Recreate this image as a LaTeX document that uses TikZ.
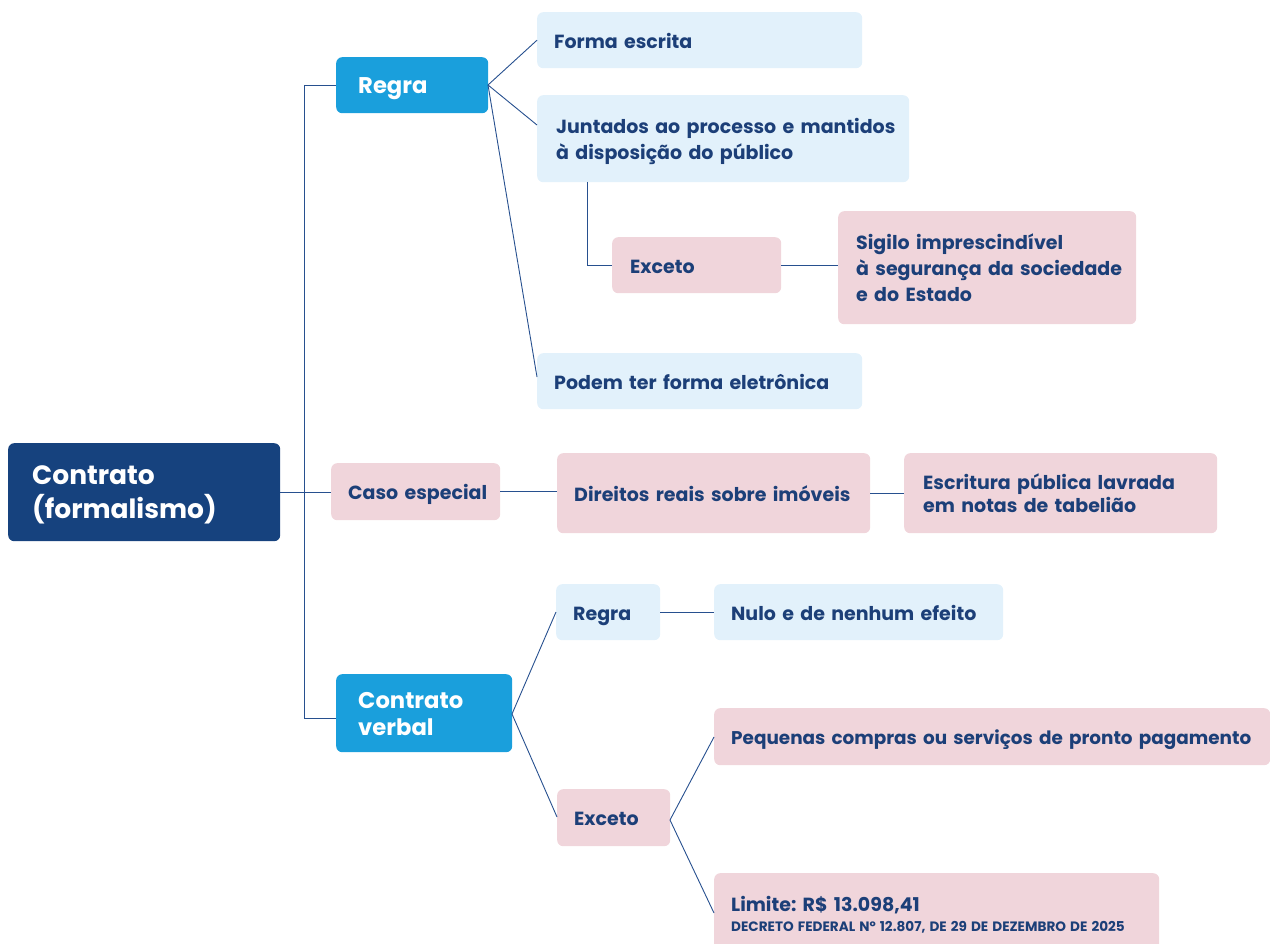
\documentclass[tikz,border=0pt]{standalone}
\usepackage{fontspec}
\setmainfont{Poppins}
\frenchspacing
\definecolor{rootc}{HTML}{16427E}
\definecolor{bluec}{HTML}{1A9FDC}
\definecolor{lblue}{HTML}{E2F1FB}
\definecolor{pinkc}{HTML}{F0D5DB}
\definecolor{txtc}{HTML}{1C3F78}
\definecolor{linec}{HTML}{27508F}
\newcommand\boxlines[1]{\raisebox{-3pt}[\height][\depth]{\begin{tabular}{@{}l@{}}#1\end{tabular}}}
\begin{document}
\begin{tikzpicture}[x=1pt,y=-1pt,
  base/.style={anchor=north west, rounded corners=6pt, align=left, inner ysep=0pt, font=\bfseries\fontsize{19}{26}\selectfont\frenchspacing, text=txtc},
  rootbox/.style={base, fill=rootc, text=white, font=\bfseries\fontsize{26.5}{31}\selectfont},
  bluebox/.style={base, fill=bluec, text=white, font=\bfseries\fontsize{22.7}{27}\selectfont},
  lbbox/.style={base, fill=lblue},
  pkbox/.style={base, fill=pinkc},
  conn/.style={draw=linec, line width=0.9pt}]
\useasboundingbox (0,0) rectangle (1270,944);

% nodes
\node[rootbox, inner xsep=24pt, text width=224pt, minimum height=98pt] (root) at (8,443) {\boxlines{Contrato\\(formalismo)}};
\node[bluebox, inner xsep=22pt, text width=108pt, minimum height=56pt] (regra) at (336,57) {\boxlines{Regra}};
\node[lbbox, inner xsep=17pt, text width=291pt, minimum height=56pt] (forma) at (537,12) {\boxlines{Forma escrita}};
\node[lbbox, inner xsep=19pt, text width=334pt, minimum height=87pt] (junt) at (537,95) {\boxlines{Juntados ao processo e mantidos\\à disposição do público}};
\node[pkbox, inner xsep=18pt, text width=133pt, minimum height=56pt] (exc1) at (612,237) {\boxlines{Exceto}};
\node[pkbox, inner xsep=18pt, text width=262pt, minimum height=113pt] (sigilo) at (838,211) {\boxlines{Sigilo imprescindível\\à segurança da sociedade\\e do Estado}};
\node[lbbox, inner xsep=17pt, text width=291pt, minimum height=56pt] (podem) at (537,353) {\boxlines{Podem ter forma eletrônica}};
\node[pkbox, inner xsep=17pt, text width=135pt, minimum height=57pt] (caso) at (331,463) {\boxlines{Caso especial}};
\node[pkbox, inner xsep=17pt, text width=279pt, minimum height=80pt] (direitos) at (557,453) {\boxlines{Direitos reais sobre imóveis}};
\node[pkbox, inner xsep=19pt, text width=275pt, minimum height=80pt, font=\bfseries\fontsize{19}{23}\selectfont] (escr) at (904,453) {\boxlines{Escritura pública lavrada\\em notas de tabelião}};
\node[bluebox, inner xsep=22pt, text width=132pt, minimum height=78pt] (verbal) at (336,674) {\boxlines{Contrato\\verbal}};
\node[lbbox, inner xsep=17pt, text width=70pt, minimum height=56pt] (regra2) at (556,584) {\boxlines{Regra}};
\node[lbbox, inner xsep=17pt, text width=255pt, minimum height=56pt] (nulo) at (714,584) {\boxlines{Nulo e de nenhum efeito}};
\node[pkbox, inner xsep=17pt, text width=79pt, minimum height=57pt] (exc2) at (557,789) {\boxlines{Exceto}};
\node[pkbox, inner xsep=17pt, text width=522pt, minimum height=57pt, font=\bfseries\fontsize{18.4}{26}\selectfont] (peq) at (714,708) {\boxlines{Pequenas compras ou serviços de pronto pagamento}};
\node[pkbox, inner xsep=17pt, text width=411pt, minimum height=82pt, font=\bfseries\fontsize{19}{20}\selectfont] (lim) at (714,873) {\boxlines{Limite: R\$ 13.098,41\\{\fontsize{13.6}{14}\selectfont\spaceskip=0.3em DECRETO FEDERAL Nº 12.807, DE 29 DE DEZEMBRO DE 2025}}};

% connectors
\coordinate (trunkT) at (304,85);
\coordinate (trunkB) at (304,718);
\coordinate (trunkM) at (304,492);
\draw[conn] (trunkT) -- (trunkB);
\draw[conn] (trunkT) -- (regra.west |- trunkT);
\draw[conn] (trunkB) -- (verbal.west |- trunkB);
\draw[conn] (root.east |- trunkM) -- (caso.west |- trunkM);

\coordinate (rg) at (488,85);
\draw[conn] (rg) -- (forma.west);
\draw[conn] (rg) -- ([yshift=-30pt]junt.north west);
\draw[conn] (rg) -- ([yshift=-24pt]podem.north west);

\coordinate (jd) at (587,182);
\draw[conn] (jd) |- (exc1.west);
\draw[conn] (exc1.east) -- (sigilo.west |- exc1.east);

\draw[conn] (caso.east) -- (direitos.west |- caso.east);
\draw[conn] (direitos.east) -- (escr.west);

\coordinate (vb) at (512,714);
\draw[conn] (vb) -- ([yshift=-28pt]regra2.north west);
\draw[conn] (vb) -- ([yshift=-28pt]exc2.north west);
\draw[conn] (regra2.east) -- (nulo.west);
\coordinate (ex) at (670,820);
\draw[conn] (ex) -- ([yshift=-29pt]peq.north west);
\draw[conn] (ex) -- ([yshift=-40pt]lim.north west);
\end{tikzpicture}
\end{document}
